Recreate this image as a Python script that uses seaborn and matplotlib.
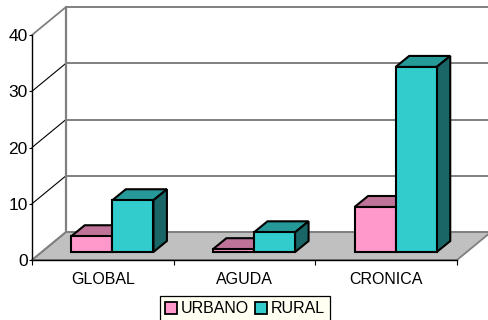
import matplotlib
matplotlib.use('Agg')
import matplotlib.pyplot as plt
import pandas as pd
import seaborn as sns
from matplotlib.patches import Polygon
from matplotlib.transforms import Affine2D, IdentityTransform

categories = ['GLOBAL', 'AGUDA', 'CRONICA']
urbano = [2.8, 0.5, 8.0]
rural = [9.2, 3.5, 32.9]
y_ticks = [0, 10, 20, 30, 40]

pink = '#FF99CC'
teal = '#33CCCC'
shades = {'URBANO': ('#BF7399', '#804D66'), 'RURAL': ('#269999', '#1A6666')}

sns.set_style('white')
plt.rcParams['font.family'] = ['Liberation Sans', 'DejaVu Sans']

df = pd.DataFrame({
    'cat': categories * 2,
    'val': urbano + rural,
    'serie': ['URBANO'] * 3 + ['RURAL'] * 3,
})

W, H = 488, 320
fig = plt.figure(figsize=(W / 100, H / 100), dpi=100)
ax = fig.add_axes([32 / W, (H - 260) / H, 425 / W, 225 / H])
ax.patch.set_alpha(0)

sns.barplot(data=df, x='cat', y='val', hue='serie', hue_order=['URBANO', 'RURAL'],
            palette={'URBANO': pink, 'RURAL': teal}, width=0.58, gap=0,
            edgecolor='black', linewidth=1.5, saturation=1, ax=ax)
ax.set_xlim(-0.5, 2.5)
ax.set_ylim(0, 40)
ax.set_xlabel('')
ax.set_ylabel('')

# walls and floor, offset in pixels from the front axes
DEPTH_X, DEPTH_Y = 34, 28
x_end = 2.5
p0 = ax.transData.transform((-0.5, 0))
p1 = ax.transData.transform((x_end, 0))
floor = [p0, p1, (p1[0] + DEPTH_X, p1[1] + DEPTH_Y), (p0[0] + DEPTH_X, p0[1] + DEPTH_Y)]
fig.add_artist(Polygon(floor, closed=True, facecolor='#C0C0C0', edgecolor='#808080', lw=1.3,
                       transform=IdentityTransform(), zorder=-2))
for t in y_ticks:
    a = ax.transData.transform((-0.5, t))
    b = (a[0] + DEPTH_X, a[1] + DEPTH_Y)
    c = (p1[0] + DEPTH_X, b[1])
    # diagonal on the side wall, line along the back wall
    diag = '#808080' if t in (0, 40) else 'black'
    fig.add_artist(plt.Line2D([a[0], b[0]], [a[1], b[1]], color=diag, lw=1.3 if t in (0, 40) else 0.8,
                              transform=IdentityTransform(), zorder=-1))
    fig.add_artist(plt.Line2D([b[0], c[0]], [b[1], c[1]], color='#808080', lw=1.4,
                              transform=IdentityTransform(), zorder=-1))
a = ax.transData.transform((-0.5, 0))
b = ax.transData.transform((-0.5, 40))
fig.add_artist(plt.Line2D([a[0] + DEPTH_X] * 2, [a[1] + DEPTH_Y, b[1] + DEPTH_Y], color='#808080', lw=1.6,
                          transform=IdentityTransform(), zorder=-1))

# 3D look for the bars
SHIFT_X, SHIFT_Y = 9.5, 8
BAR_X, BAR_Y = 13.5, 11
shift = ax.transData + Affine2D().translate(SHIFT_X, SHIFT_Y)
for k, (name, cont) in enumerate(zip(['URBANO', 'RURAL'], ax.containers)):
    top_col, side_col = shades[name]
    for bar in cont:
        bar.set_transform(shift)
        bar.set_clip_on(False)
        bar.set_zorder(4 + 2 * k)
        x0, y0 = shift.transform((bar.get_x(), bar.get_y()))
        x1, y1 = shift.transform((bar.get_x() + bar.get_width(), bar.get_height()))
        top = [(x0, y1), (x1, y1), (x1 + BAR_X, y1 + BAR_Y), (x0 + BAR_X, y1 + BAR_Y)]
        side = [(x1, y0), (x1 + BAR_X, y0 + BAR_Y), (x1 + BAR_X, y1 + BAR_Y), (x1, y1)]
        for pts, col in ((top, top_col), (side, side_col)):
            ax.add_patch(Polygon(pts, closed=True, facecolor=col, edgecolor='black', lw=1.5,
                                 transform=IdentityTransform(), clip_on=False, zorder=3 + 2 * k))

sns.despine(ax=ax)
for s in ('left', 'bottom'):
    ax.spines[s].set_color('black')
    ax.spines[s].set_linewidth(1.0)
ax.set_yticks(y_ticks)
ax.tick_params(axis='y', left=True, length=2, width=0.8, color='black', labelsize=12.5, pad=1, labelcolor='black')
ax.set_xticks([-0.5, 0.5, 1.5, 2.5], minor=True)
ax.tick_params(axis='x', which='minor', bottom=True, length=3.5, width=0.8, color='black')
ax.tick_params(axis='x', which='major', bottom=False, labelsize=11.5, pad=5.5, labelcolor='black')

handles, labels = ax.get_legend_handles_labels()
leg = ax.legend(handles, labels, ncols=2, loc='lower left',
                bbox_to_anchor=(160 / W, -1 / H), bbox_transform=fig.transFigure,
                frameon=True, fancybox=False, facecolor='#FFFFF2', edgecolor='black', framealpha=1,
                fontsize=11.5, labelcolor='black', borderpad=0.3, handlelength=0.75, handleheight=0.8,
                handletextpad=0.25, columnspacing=0.4, borderaxespad=0)
leg.get_frame().set_linewidth(0.9)
for h in leg.get_patches():
    h.set_edgecolor('black')
    h.set_linewidth(1.3)

fig.savefig('out.png', dpi=100)
